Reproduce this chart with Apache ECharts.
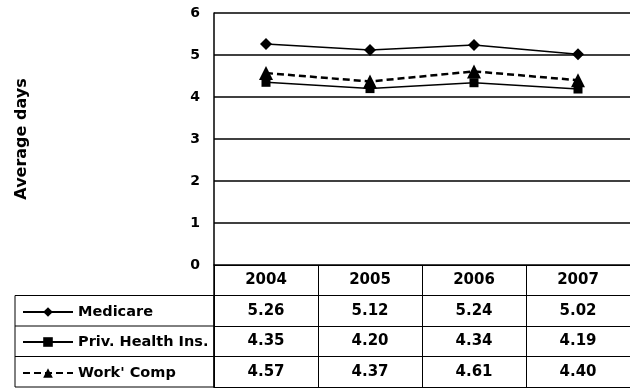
<!DOCTYPE html>
<html>
<head>
<meta charset="utf-8">
<script src="https://cdn.jsdelivr.net/npm/echarts@6/dist/echarts.min.js"></script>
<style>
  html, body { margin: 0; padding: 0; background: #fff; }
  #main { width: 630px; height: 389px; }
</style>
</head>
<body>
<div id="main"></div>
<script>
// 年份
const years = ['2004', '2005', '2006', '2007']
// 各系列平均天数
const medicare = [5.26, 5.12, 5.24, 5.02]
const privHealth = [4.35, 4.20, 4.34, 4.19]
const workComp = [4.57, 4.37, 4.61, 4.40]
const seriesNames = ['Medicare', 'Priv. Health Ins.', "Work' Comp"]
// 表格行（第一行是年份表头）
const tableRows = ['header', ...seriesNames]

const FONT = 'DejaVu Sans'
const chart = echarts.init(document.getElementById('main'))

/** 表格单元格数据 */
function buildCells() {
  const cells = []
  const lists = [medicare, privHealth, workComp]
  years.forEach((y, i) => {
    cells.push({ value: [y, 'header'], text: y })
    lists.forEach((list, k) => {
      cells.push({ value: [y, seriesNames[k]], text: list[i].toFixed(2) })
    })
  })
  return cells
}

/** 每行一个图例，放进表格左侧 */
const legendTops = [299, 329, 360]
const legends = seriesNames.map((name, i) => ({
  orient: 'horizontal',
  left: 17,
  top: legendTops[i],
  itemWidth: 50,
  itemHeight: 12,
  textStyle: { fontFamily: FONT, fontSize: 14.5, fontWeight: 'bold', color: '#000', lineHeight: 16 },
  data: [name],
}))

const option = {
  backgroundColor: '#fff',
  animation: false,
  textStyle: { fontFamily: FONT, color: '#000' },
  grid: [
    { left: 214, right: -10, top: 13, height: 252 },
    { left: 214, right: -10, top: 265, height: 122 },
  ],
  legend: legends,
  xAxis: [
    {
      gridIndex: 0,
      type: 'category',
      data: years,
      boundaryGap: true,
      axisLine: { show: false },
      axisTick: { show: false },
      axisLabel: { show: false },
    },
    {
      gridIndex: 1,
      type: 'category',
      data: years,
      boundaryGap: true,
      position: 'bottom',
      axisLine: { show: true, lineStyle: { color: '#000', width: 1 } },
      axisTick: { show: false },
      axisLabel: { show: false },
      splitLine: { show: true, lineStyle: { color: '#000', width: 1 } },
    },
  ],
  yAxis: [
    {
      gridIndex: 0,
      type: 'value',
      min: 0,
      max: 6,
      interval: 1,
      name: 'Average days',
      nameLocation: 'middle',
      nameRotate: 90,
      nameGap: 184,
      nameTextStyle: { fontFamily: FONT, fontSize: 16, fontWeight: 'bold', color: '#000' },
      axisLine: { show: true, lineStyle: { color: '#000', width: 1.5 } },
      axisTick: { show: false },
      axisLabel: { fontFamily: FONT, fontSize: 14, fontWeight: 'bold', color: '#000', margin: 14 },
      splitLine: { show: true, lineStyle: { color: '#000', width: 1.5 } },
    },
    {
      gridIndex: 1,
      type: 'category',
      data: tableRows,
      inverse: true,
      axisLine: { show: true, lineStyle: { color: '#000', width: 1.5 } },
      axisTick: { show: false },
      axisLabel: { show: false },
      splitLine: { show: true, lineStyle: { color: '#000', width: 1 } },
    },
  ],
  graphic: [
    // 图例列边框和行线
    { type: 'rect', shape: { x: 15, y: 295.5, width: 199, height: 91.5 }, style: { fill: 'none', stroke: '#000', lineWidth: 1 } },
    { type: 'line', shape: { x1: 15, y1: 326, x2: 214, y2: 326 }, style: { stroke: '#000', lineWidth: 1 } },
    { type: 'line', shape: { x1: 15, y1: 356.5, x2: 214, y2: 356.5 }, style: { stroke: '#000', lineWidth: 1 } },
  ],
  series: [
    {
      name: 'Medicare',
      type: 'line',
      data: medicare,
      symbol: 'diamond',
      symbolSize: 12,
      itemStyle: { color: '#000' },
      lineStyle: { color: '#000', width: 1.5 },
    },
    {
      name: 'Priv. Health Ins.',
      type: 'line',
      data: privHealth,
      symbol: 'rect',
      symbolSize: 9,
      itemStyle: { color: '#000' },
      lineStyle: { color: '#000', width: 1.5 },
    },
    {
      name: "Work' Comp",
      type: 'line',
      data: workComp,
      symbol: 'triangle',
      symbolSize: 14,
      itemStyle: { color: '#000' },
      lineStyle: { color: '#000', width: 2.5, type: [7, 4] },
    },
    {
      // 表格文字
      type: 'scatter',
      xAxisIndex: 1,
      yAxisIndex: 1,
      symbolSize: 0,
      silent: true,
      itemStyle: { opacity: 1, color: '#000' },
      data: buildCells(),
      label: {
        show: true,
        position: 'inside',
        fontFamily: FONT,
        fontSize: 15,
        fontWeight: 'bold',
        color: '#000',
        opacity: 1,
        formatter: (p) => p.data.text,
      },
    },
  ],
}

chart.setOption(option)
</script>
</body>
</html>
